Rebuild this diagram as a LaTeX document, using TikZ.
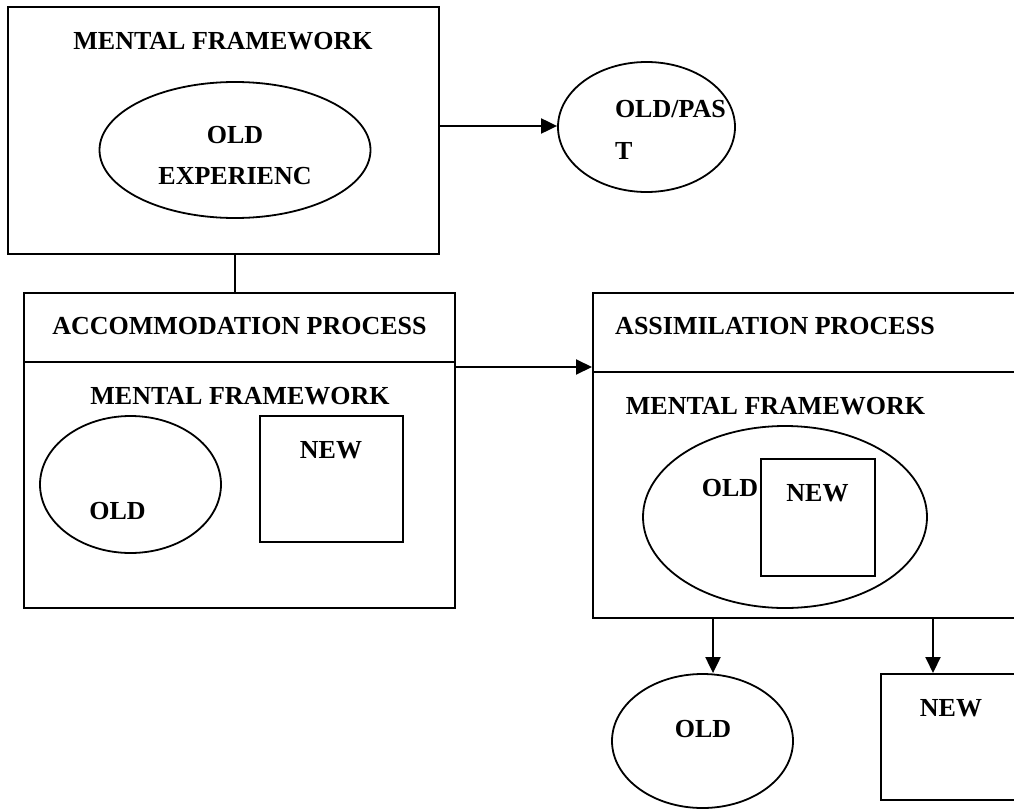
\documentclass[tikz,border=0pt]{standalone}
\usepackage{fontspec}
\setmainfont{Liberation Serif}
\usetikzlibrary{shapes.geometric,arrows.meta}
\begin{document}
\begin{tikzpicture}[x=1pt,y=-1pt,
  line width=2pt,
  box/.style={draw,rectangle,inner sep=0pt,line width=2pt},
  oval/.style={draw,ellipse,inner sep=0pt,line width=1.8pt},
  lbl/.style={inner sep=0pt,anchor=base,font=\fontsize{26}{30}\selectfont\bfseries},
  lblw/.style={lbl,anchor=base west},
  arr/.style={-{Triangle[length=16pt,width=15pt]},line width=2pt}]
\useasboundingbox[fill=white] (0,0) rectangle (1014,808);
% top mental framework
\node[box,minimum width=431pt,minimum height=247pt] (top) at (223.5,130.5) {};
\node[lbl] (topmf) at (223,49) {MENTAL FRAMEWORK};
\node[oval,minimum width=271pt,minimum height=136pt] (oldexp) at (235,150) {};
\node[lbl] (oldexpa) at (235,143) {OLD};
\node[lbl] (oldexpb) at (235,184) {EXPERIENC};
% old/past
\node[oval,minimum width=177pt,minimum height=130pt] (past) at (646.5,127) {};
\node[lblw] (pasta) at (614,117) {OLD/PAS};
\node[lblw] (pastb) at (614,159) {T};
% accommodation
\node[box,minimum width=431pt,minimum height=69pt] (acct) at (239.5,327.5) {};
\node[box,minimum width=431pt,minimum height=246pt] (accb) at (239.5,485) {};
\node[lbl] (acctl) at (239.5,334) {ACCOMMODATION PROCESS};
\node[lbl] (accmf) at (240,404) {MENTAL FRAMEWORK};
\node[oval,minimum width=181pt,minimum height=137pt] (accold) at (130.5,484.5) {};
\node[lbl] (accoldl) at (117.5,519) {OLD};
\node[box,minimum width=143pt,minimum height=126pt] (accnew) at (331.5,479) {};
\node[lbl] (accnewl) at (331,458) {NEW};
% assimilation
\node[box,minimum width=427pt,minimum height=79pt] (ast) at (806.5,332.5) {};
\node[box,minimum width=427pt,minimum height=246pt] (asb) at (806.5,495) {};
\node[lbl] (astl) at (775,334) {ASSIMILATION PROCESS};
\node[lbl] (asmf) at (775.5,414) {MENTAL FRAMEWORK};
\node[oval,minimum width=284pt,minimum height=182pt] (asold) at (785,517) {};
\node[box,minimum width=114pt,minimum height=117pt] (asnew) at (818,517.5) {};
\node[lbl] (asnewl) at (817.5,501) {NEW};
\node[lbl] (asoldl) at (730,496) {OLD};
% bottom outputs
\node[oval,minimum width=181pt,minimum height=134pt] (bold) at (702.5,741) {};
\node[lbl] (boldl) at (703,737) {OLD};
\node[box,minimum width=137pt,minimum height=126pt] (bnew) at (949.5,737) {};
\node[lbl] (bnewl) at (951,716) {NEW};
% connectors
\coordinate (m1) at (0,126);
\coordinate (m2) at (0,367);
\coordinate (d1) at (713,0);
\coordinate (d2) at (933,0);
\draw[arr] (top.east |- m1) -- (past.west |- m1);
\draw (top.south -| oldexp) -- (acct.north -| oldexp);
\draw[arr] (accb.east |- m2) -- (ast.west |- m2);
\draw[arr] (asb.south -| d1) -- (bold.north -| d1);
\draw[arr] (asb.south -| d2) -- (bnew.north -| d2);
\end{tikzpicture}
\end{document}
